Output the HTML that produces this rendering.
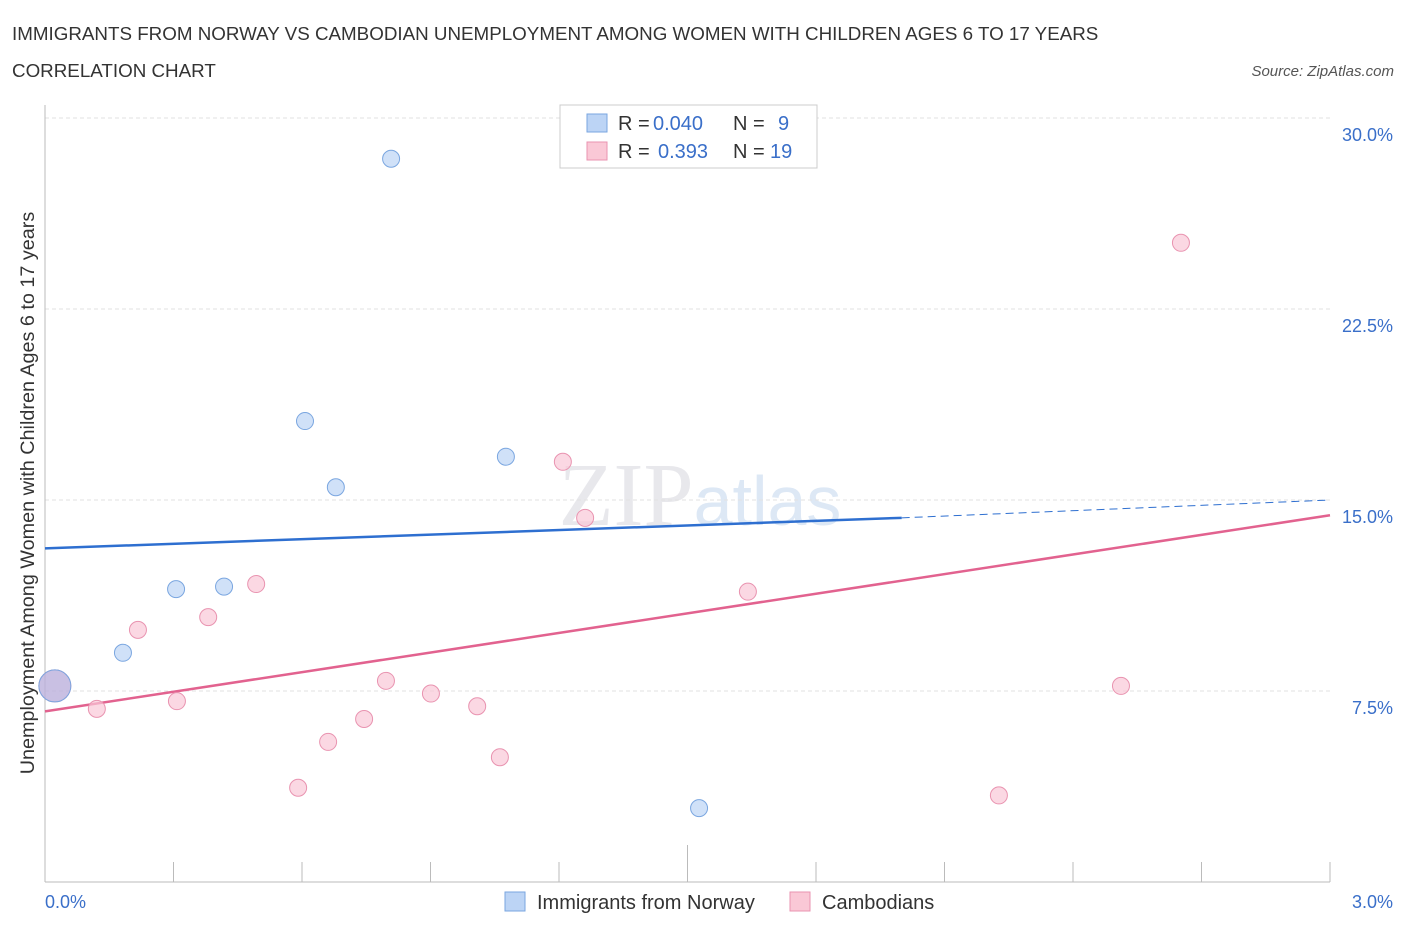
<!DOCTYPE html>
<html><head><meta charset="utf-8"><style>
body{margin:0;background:#fff;font-family:"Liberation Sans",sans-serif;}
</style></head><body>
<svg width="1406" height="930" xmlns="http://www.w3.org/2000/svg" font-family="Liberation Sans, sans-serif">
<text x="12" y="40" font-size="18.8" fill="#333">IMMIGRANTS FROM NORWAY VS CAMBODIAN UNEMPLOYMENT AMONG WOMEN WITH CHILDREN AGES 6 TO 17 YEARS</text>
<text x="12" y="77" font-size="18.8" fill="#333">CORRELATION CHART</text>
<text x="1394" y="76" font-size="15" fill="#555" font-style="italic" text-anchor="end">Source: ZipAtlas.com</text>
<text x="700" y="525" font-size="90" fill="#e8e8ec" text-anchor="middle" font-family="Liberation Serif, serif">ZIP<tspan fill="#dde8f5" font-family="Liberation Sans, sans-serif" font-size="70">atlas</tspan></text>
<g id="grid"></g>
<g id="axes"></g>
<g id="marks"></g>
<text transform="translate(34,493) rotate(-90)" font-size="19.8" fill="#333" text-anchor="middle">Unemployment Among Women with Children Ages 6 to 17 years</text>
<g>
<rect x="560" y="105" width="257" height="63" fill="#fff" stroke="#ccc"/>
<rect x="587" y="114" width="20" height="18" fill="#bcd4f5" stroke="#7aa6e0"/>
<rect x="587" y="142" width="20" height="18" fill="#fac8d6" stroke="#e993b0"/>
<text x="618" y="130" font-size="20" fill="#333">R = <tspan x="653" fill="#3a6fc9">0.040</tspan><tspan x="733">N =</tspan><tspan x="778" fill="#3a6fc9">9</tspan></text>
<text x="618" y="158" font-size="20" fill="#333">R = <tspan x="658" fill="#3a6fc9">0.393</tspan><tspan x="733">N =</tspan><tspan x="770" fill="#3a6fc9">19</tspan></text>
</g>
<g>
<rect x="505" y="892" width="20" height="19" fill="#bcd4f5" stroke="#7aa6e0"/>
<text x="537" y="909" font-size="20" fill="#333">Immigrants from Norway</text>
<rect x="790" y="892" width="20" height="19" fill="#fac8d6" stroke="#e993b0"/>
<text x="822" y="909" font-size="20" fill="#333">Cambodians</text>
</g>
</svg>
<script>
const yTicks=[7.5,15,22.5,30];
const yTickLabels=["7.5%","15.0%","22.5%","30.0%"];
const xTickLabels=["0.0%","3.0%"];
const norwayX=[0.808,0.607,0.679,1.076,0.306,0.418,0.182,0.023,1.527];
const norwayY=[28.4,18.1,15.5,16.7,11.5,11.6,9.0,7.7,2.9];
const cambX=[2.652,1.209,1.261,0.493,1.641,0.381,0.217,0.121,0.308,0.796,0.901,0.745,1.009,0.661,1.062,0.591,2.512,2.227,0.023];
const cambY=[25.1,16.5,14.3,11.7,11.4,10.4,9.9,6.8,7.1,7.9,7.4,6.4,6.9,5.5,4.9,3.7,7.7,3.4,7.7];
const norwayTrend=[[0,13.1],[2.0,14.3],[3.0,15.0]];
const cambTrend=[[0,6.7],[3.0,14.4]];
const NS="http://www.w3.org/2000/svg";
const X=v=>45+v/3*1285, Y=v=>882-v/30*764;
function mk(t,a,p){const e=document.createElementNS(NS,t);for(const k in a)e.setAttribute(k,a[k]);document.getElementById(p).appendChild(e);return e;}
yTicks.forEach((t,i)=>{
 const l=mk('line',{x1:45,x2:1330,y1:Y(t),y2:Y(t),stroke:'#e2e2e2','stroke-dasharray':'4,3'},'grid');
 
 
 const tx=mk('text',{x:1393,y:Y(t)+23,'font-size':18,fill:'#3a6fc9','text-anchor':'end'},'axes');tx.textContent=yTickLabels[i];
 
 
});
const ax=mk('line',{x1:45,x2:1330,y1:882,y2:882,stroke:'#bbb'},'axes');


const ay=mk('line',{x1:45,x2:45,y1:105,y2:882,stroke:'#bbb'},'axes');


for(let i=0;i<=10;i++){const x=X(i*0.3);const tk=mk('line',{x1:x,x2:x,y1:i==5?845:862,y2:882,stroke:'#bbb'},'axes');
 
 }
[[0,45,'start'],[3,1393,'end']].forEach((d,i)=>{const t=mk('text',{x:d[1],y:908,'font-size':18,fill:'#3a6fc9','text-anchor':d[2]},'axes');t.textContent=xTickLabels[i];
 
 });
const b1=mk('line',{x1:X(norwayTrend[0][0]),y1:Y(norwayTrend[0][1]),x2:X(norwayTrend[1][0]),y2:Y(norwayTrend[1][1]),stroke:'#2e6fd0','stroke-width':2.5},'marks');


const b2=mk('line',{x1:X(norwayTrend[1][0]),y1:Y(norwayTrend[1][1]),x2:X(norwayTrend[2][0]),y2:Y(norwayTrend[2][1]),stroke:'#2e6fd0','stroke-width':1,'stroke-dasharray':'8,5'},'marks');


const p1=mk('line',{x1:X(cambTrend[0][0]),y1:Y(cambTrend[0][1]),x2:X(cambTrend[1][0]),y2:Y(cambTrend[1][1]),stroke:'#e2628f','stroke-width':2.5},'marks');


cambX.forEach((v,i)=>{const big=i==cambX.length-1;const c=mk('circle',{cx:X(v),cy:Y(cambY[i]),r:big?16:8.5,fill:big?'rgba(200,170,210,0.6)':'rgba(250,200,215,0.7)',stroke:'#e993b0','stroke-width':1},'marks');
 
 });
norwayX.forEach((v,i)=>{const big=i==7;const c=mk('circle',{cx:X(v),cy:Y(norwayY[i]),r:big?16:8.5,fill:big?'rgba(180,180,225,0.5)':'rgba(188,212,245,0.7)',stroke:'#7aa6e0','stroke-width':1},'marks');
 
 });
</script>
</body></html>
